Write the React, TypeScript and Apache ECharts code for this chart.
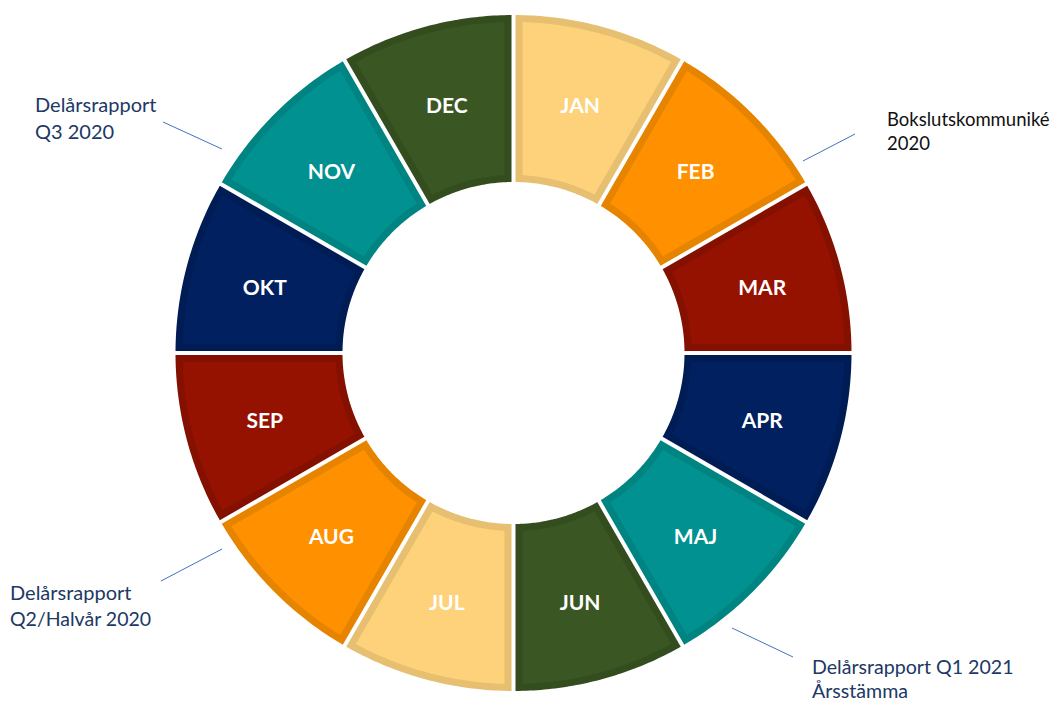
import React, { useEffect, useRef } from "react";
import * as echarts from "echarts";

const MONTHS = ["JAN", "FEB", "MAR", "APR", "MAJ", "JUN", "JUL", "AUG", "SEP", "OKT", "NOV", "DEC"];
const MONTH_VALUES = [1, 1, 1, 1, 1, 1, 1, 1, 1, 1, 1, 1];

const FILL_COLORS = ["#FDD27A", "#FF9100", "#951100", "#002060", "#009190", "#3A5723",
  "#FDD27A", "#FF9100", "#951100", "#002060", "#009190", "#3A5723"];
const EDGE_COLORS = ["#E6BF70", "#E68400", "#841000", "#001C55", "#008481", "#334D1F",
  "#E6BF70", "#E68400", "#841000", "#001C55", "#008481", "#334D1F"];

const NOTE_LINES_Q3 = ["Delårsrapport", "Q3 2020"];
const NOTE_LINES_BOKSLUT = ["Bokslutskommuniké", "2020"];
const NOTE_LINES_Q2 = ["Delårsrapport", "Q2/Halvår 2020"];
const NOTE_LINES_Q1 = ["Delårsrapport Q1 2021", "Årsstämma"];

const CX = 513.5;
const CY = 353;
const R_OUT = 338;
const R_IN = 171;
const EDGE_W = 7;
const GAP_HALF = 2;

function ringPolygon(t0: number, t1: number, h: number, R: number, r0: number) {
  const pts: number[][] = [];
  const N = 48;
  const dO = (Math.asin(h / R) * 180) / Math.PI;
  const dI = (Math.asin(h / r0) * 180) / Math.PI;
  const a0 = t0 - dO, a1 = t1 + dO;
  for (let k = 0; k <= N; k++) {
    const a = ((a0 + (a1 - a0) * (k / N)) * Math.PI) / 180;
    pts.push([CX + R * Math.cos(a), CY - R * Math.sin(a)]);
  }
  const b0 = t1 + dI, b1 = t0 - dI;
  for (let k = 0; k <= N; k++) {
    const a = ((b0 + (b1 - b0) * (k / N)) * Math.PI) / 180;
    pts.push([CX + r0 * Math.cos(a), CY - r0 * Math.sin(a)]);
  }
  return pts;
}

const NOTE_FONT = "Lato, 'Open Sans', sans-serif";

function textEl(str: string, x: number, y: number, color: string, size: number) {
  return {
    type: "text",
    x,
    y,
    style: { text: str, fill: color, fontSize: size, fontFamily: NOTE_FONT, verticalAlign: "middle", align: "left" },
    silent: true,
  };
}
function lineEl(x1: number, y1: number, x2: number, y2: number, opacity = 1) {
  return {
    type: "line",
    shape: { x1, y1, x2, y2 },
    style: { stroke: "#4472C4", lineWidth: 1, opacity },
    silent: true,
  };
}

export default function App() {
  const ref = useRef<HTMLDivElement>(null);
  useEffect(() => {
    if (!ref.current) return;
    const chart = echarts.init(ref.current, null, { renderer: "svg" });
    const total = MONTH_VALUES.reduce((a, b) => a + b, 0);
    const starts: number[] = [];
    let acc = 0;
    MONTH_VALUES.forEach((v) => { starts.push(acc); acc += v; });

    const option: any = {
      animation: false,
      backgroundColor: "#ffffff",
      series: [
        {
          type: "custom",
          coordinateSystem: "none",
          silent: true,
          z: 1,
          data: MONTH_VALUES.map((v, i) => [v, i]),
          renderItem: (params: any, api: any) => {
            const i = params.dataIndex;
            const v = api.value(0);
            const t0 = 90 - (360 * starts[i]) / total;
            const t1 = 90 - (360 * (starts[i] + v)) / total;
            return {
              type: "group",
              children: [
                {
                  type: "polygon",
                  shape: { points: ringPolygon(t0, t1, GAP_HALF, R_OUT, R_IN) },
                  style: { fill: EDGE_COLORS[i] },
                },
                {
                  type: "polygon",
                  shape: { points: ringPolygon(t0, t1, GAP_HALF + EDGE_W, R_OUT - EDGE_W, R_IN + EDGE_W) },
                  style: { fill: FILL_COLORS[i] },
                },
              ],
            };
          },
        },
        {
          type: "pie",
          z: 5,
          silent: true,
          center: [CX, CY],
          radius: [R_IN, R_OUT],
          startAngle: 90,
          clockwise: true,
          itemStyle: { color: "rgba(0,0,0,0)" },
          label: {
            show: true,
            position: "inside",
            formatter: "{b}",
            color: "#ffffff",
            fontWeight: "bold",
            fontSize: 21,
            fontFamily: "Lato, 'Open Sans', sans-serif",
          },
          labelLine: { show: false },
          emphasis: { disabled: true },
          data: MONTHS.map((m, i) => ({ name: m, value: MONTH_VALUES[i] })),
        },
      ],
      graphic: [
        lineEl(163, 122, 222, 149),
        lineEl(235, 178, 295, 210, 0.45),
        lineEl(803, 161, 855, 134),
        lineEl(161, 581, 222, 549),
        lineEl(732, 628, 793, 657),
        textEl(NOTE_LINES_Q3[0], 35, 104, "#203864", 20),
        textEl(NOTE_LINES_Q3[1], 35, 131, "#203864", 20),
        textEl(NOTE_LINES_BOKSLUT[0], 887, 119, "#111111", 18.5),
        textEl(NOTE_LINES_BOKSLUT[1], 887, 143, "#111111", 18.5),
        textEl(NOTE_LINES_Q2[0], 10, 592, "#203864", 20),
        textEl(NOTE_LINES_Q2[1], 10, 618, "#203864", 19.5),
        textEl(NOTE_LINES_Q1[0], 812, 666, "#203864", 19.6),
        textEl(NOTE_LINES_Q1[1], 812, 690, "#203864", 19.6),
      ],
    };
    chart.setOption(option);
    return () => chart.dispose();
  }, []);
  return (
    <div
      ref={ref}
      style={{ position: "absolute", left: 0, top: 0, width: 1058, height: 702 }}
    />
  );
}
